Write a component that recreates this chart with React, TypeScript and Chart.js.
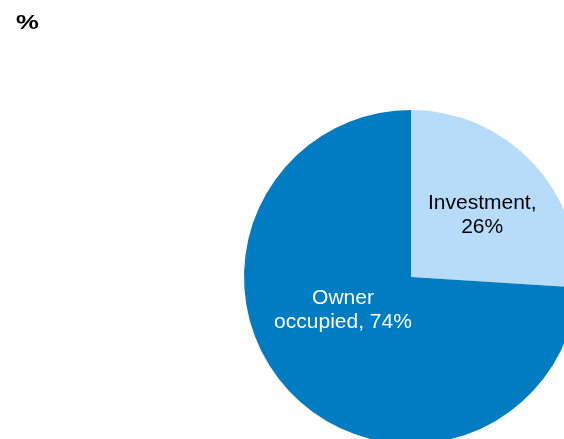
import React, { useEffect, useRef } from "react";
import { Chart, registerables } from "chart.js";

Chart.register(...registerables);

const categories = ["Investment", "Owner occupied"];
const values = [26, 74];
const colors = ["#B7DCFA", "#007CC3"];
const labelColors = ["#000000", "#FFFFFF"];
const labelLines = [["Investment,", "26%"], ["Owner", "occupied, 74%"]];
// label placement: angle (deg clockwise from top), radius fraction
const labelAngles = [49, 244];
const labelRadii = [0.565, 0.453];
const unitLabel = "%";

export default function App() {
  const ref = useRef<HTMLCanvasElement | null>(null);
  useEffect(() => {
    if (!ref.current) return;
    const labelPlugin = {
      id: "pieLabels",
      afterDatasetsDraw(chart: any) {
        const ctx = chart.ctx;
        const meta = chart.getDatasetMeta(0);
        ctx.save();
        ctx.textAlign = "center";
        ctx.textBaseline = "middle";
        ctx.font = "21px 'Liberation Sans', Arial, sans-serif";
        meta.data.forEach((arc: any, i: number) => {
          const cx = arc.x, cy = arc.y, r = arc.outerRadius;
          const a = (labelAngles[i] * Math.PI) / 180;
          const x = cx + Math.sin(a) * r * labelRadii[i];
          const y = cy - Math.cos(a) * r * labelRadii[i];
          const lines = labelLines[i];
          const lh = 24.5;
          ctx.fillStyle = labelColors[i];
          lines.forEach((t, j) => {
            ctx.fillText(t, x, y + (j - (lines.length - 1) / 2) * lh);
          });
        });
        ctx.font = "bold 21px 'Liberation Sans', Arial, sans-serif";
        ctx.fillStyle = "#000000";
        ctx.textAlign = "left";
        ctx.textBaseline = "alphabetic";
        ctx.translate(16, 28.5);
        ctx.scale(1.22, 1);
        ctx.fillText(unitLabel, 0, 0);
        ctx.restore();
      },
    };
    const chart = new Chart(ref.current, {
      type: "pie",
      data: {
        labels: categories,
        datasets: [
          {
            data: values,
            backgroundColor: colors,
            borderWidth: 0,
          },
        ],
      },
      options: {
        responsive: false,
        animation: false,
        layout: { padding: { left: 244, top: 110, right: 22, bottom: 16 } },
        plugins: { legend: { display: false }, tooltip: { enabled: false } },
      },
      plugins: [labelPlugin],
    });
    return () => chart.destroy();
  }, []);
  return (
    <div
      style={{
        position: "fixed",
        left: 0,
        top: 0,
        width: 564,
        height: 439,
        overflow: "hidden",
        background: "#ffffff",
      }}
    >
      <canvas ref={ref} width={600} height={460} style={{ display: "block" }} />
    </div>
  );
}
